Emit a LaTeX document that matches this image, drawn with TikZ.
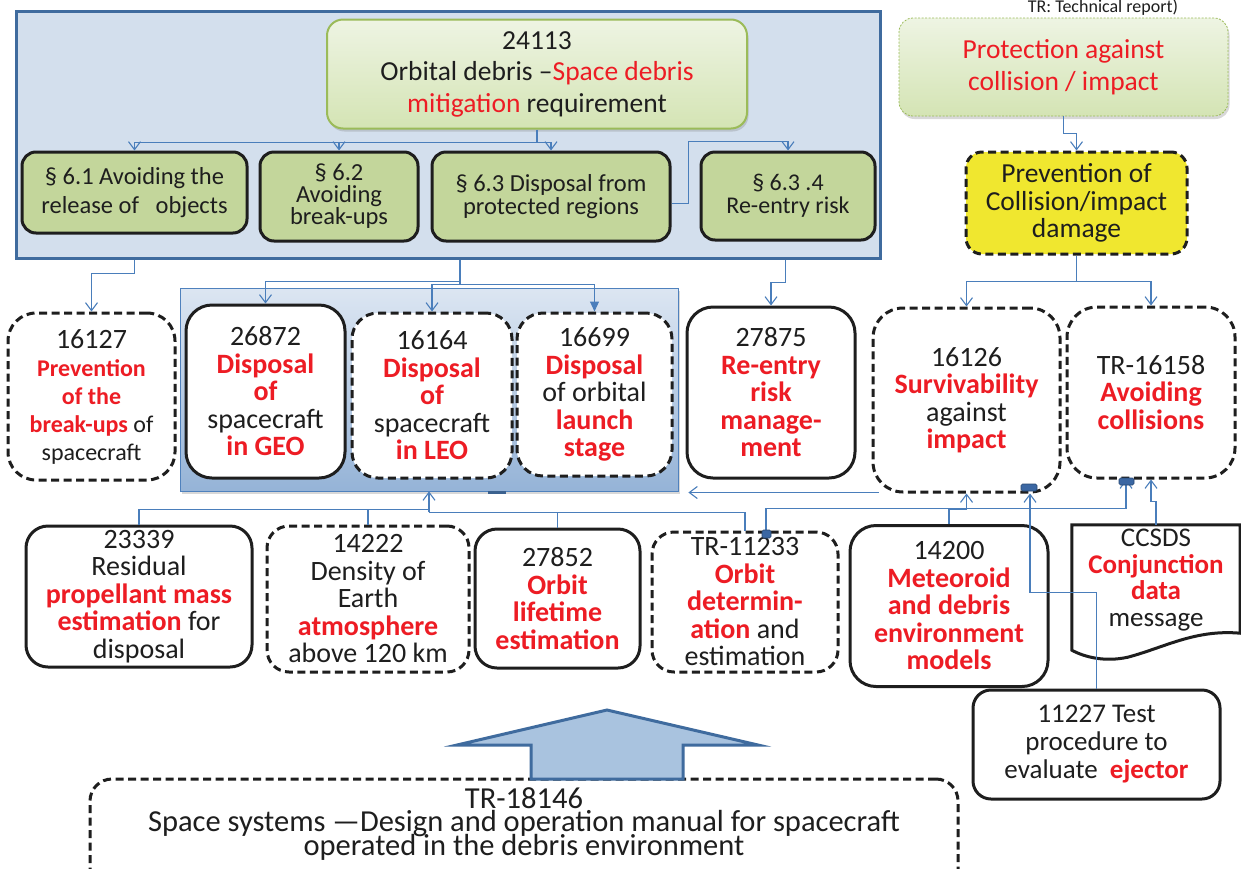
\documentclass[tikz,border=0pt]{standalone}
\usepackage{fontspec}
\setmainfont{Carlito}
\usetikzlibrary{arrows.meta,shadows,calc}

\definecolor{ink}{HTML}{1E1E1E}
\definecolor{hot}{HTML}{ED1C24}
\definecolor{wireblue}{HTML}{4A7EBB}
\definecolor{framefill}{HTML}{D3DFED}
\definecolor{frameline}{HTML}{3F6B9E}
\definecolor{olive}{HTML}{C3D69B}
\definecolor{leaftop}{HTML}{EEF4E3}
\definecolor{leafbot}{HTML}{D4E4B4}
\definecolor{leafline}{HTML}{9BBB59}
\definecolor{skytop}{HTML}{DCE6F2}
\definecolor{skybot}{HTML}{95B3D7}
\definecolor{skyline}{HTML}{4F81BD}
\definecolor{lemon}{HTML}{F0E72F}
\definecolor{bigarrow}{HTML}{A9C3DF}
\definecolor{gluecol}{HTML}{3B67A3}

\newcommand{\redbf}[1]{\textcolor{hot}{\bfseries #1}}
\newcommand{\redtx}[1]{\textcolor{hot}{#1}}
% font size with a fixed line pitch, even when lines would touch
\newcommand{\fsz}[2]{\fontsize{#1}{#2}\selectfont\lineskiplimit=-60pt\relax}

\tikzset{
  every node/.style={text=ink, align=center, inner sep=0pt},
  txtmid/.style={font=\fsz{28}{27.5}},
  roundbox/.style={draw=ink, line width=3pt, rounded corners=26pt, fill=white, txtmid},
  dashbox/.style={roundbox, dash pattern=on 8pt off 4.5pt},
  secbox/.style={draw=ink, line width=3pt, rounded corners=14pt, fill=olive},
  wire/.style={draw=wireblue, line width=1.1pt},
  conn/.style={wire, -{Straight Barb[length=8pt,width=12pt]}},
  connfill/.style={wire, -{Triangle[length=10pt,width=9pt]}},
  gluemark/.style={fill=gluecol, draw=gluecol!70!black, line width=0.6pt, rounded corners=1.5pt},
  softshadow/.style={drop shadow={shadow xshift=1.5pt, shadow yshift=-3pt, opacity=0.3}},
}

\begin{document}
\begin{tikzpicture}[x=1pt,y=-1pt]
\useasboundingbox (0,0) rectangle (1241,868);
\clip (0,0) rectangle (1241,868);
\fill[white] (0,0) rectangle (1241,868);

% ---------- ISO 24113 group ----------
\node[draw=frameline, line width=3pt, fill=framefill, minimum width=864pt, minimum height=247pt] (frame) at (448,134.5) {};

\node[draw=leafline, line width=2pt, rounded corners=16pt, top color=leaftop, bottom color=leafbot, softshadow,
  minimum width=420pt, minimum height=109pt, font=\fsz{27.5}{31.5}] (n24113) at (537,74)
  {24113\\ Orbital debris –\redtx{Space debris}\\ \redtx{mitigation} requirement};

\node[secbox, minimum width=225pt, minimum height=81pt, font=\fsz{24.5}{29}] (s61) at (134.5,192.5)
  {§ 6.1 Avoiding the\\ release of\ \ \ objects};
\node[secbox, minimum width=158pt, minimum height=89pt, font=\fsz{24.5}{22}] (s62) at (339,196.5)
  {§ 6.2\\ Avoiding\\ break-ups};
\node[secbox, minimum width=238pt, minimum height=89pt, font=\fsz{24.5}{22.5}] (s63) at (551,196.5)
  {§ 6.3 Disposal from\\ protected regions};
\node[secbox, minimum width=174pt, minimum height=88pt, font=\fsz{24}{23}] (s634) at (788,196)
  {§ 6.3 .4\\ Re-entry risk};

% ---------- disposal group ----------
\node[draw=skyline, line width=0.8pt, top color=skytop, bottom color=skybot, softshadow,
  minimum width=498pt, minimum height=203pt] (bay) at (429,389.5) {};
\fill[skyline!75!black] (488,491) rectangle (506,494);

% ---------- collision side ----------
\node[font=\fsz{18}{20}] (note) at (1103,7) {TR: Technical report)};

\node[draw=leafline, line width=0.8pt, dash pattern=on 2pt off 1.5pt, rounded corners=14pt,
  top color=leaftop, bottom color=leafbot, softshadow,
  minimum width=329pt, minimum height=98pt, font=\fsz{27.5}{32}, text=hot] (protect) at (1063.5,67)
  {Protection against\\ collision / impact};

\node[dashbox, fill=lemon, rounded corners=16pt, minimum width=221pt, minimum height=102pt,
  font=\fsz{27.5}{27.5}] (damage) at (1076.5,203)
  {Prevention of\\ Collision/impact\\ damage};

% ---------- middle row ----------
\node[dashbox, rounded corners=28pt, minimum width=167pt, minimum height=167pt, font=\fsz{24}{28}] (n16127) at (91.5,396.5)
  {{\fontsize{28}{28}\selectfont 16127}\\ \redbf{Prevention}\\ \redbf{of the}\\ \redbf{break-ups} of\\ spacecraft};
\node[roundbox, minimum width=159pt, minimum height=173pt] (n26872) at (265.5,391.5)
  {26872\\ \redbf{Disposal}\\ \redbf{of}\\ spacecraft\\ \redbf{in GEO}};
\node[dashbox, minimum width=160pt, minimum height=165pt] (n16164) at (432,395.5)
  {16164\\ \redbf{Disposal}\\ \redbf{of}\\ spacecraft\\ \redbf{in LEO}};
\node[dashbox, minimum width=155pt, minimum height=163pt] (n16699) at (594.5,394.5)
  {16699\\ \redbf{Disposal}\\ of orbital\\ \redbf{launch}\\ \redbf{stage}};
\node[roundbox, minimum width=168pt, minimum height=171pt] (n27875) at (771,392.5)
  {27875\\ \redbf{Re-entry}\\ \redbf{risk}\\ \redbf{manage-}\\ \redbf{ment}};
\node[dashbox, rounded corners=30pt, minimum width=187pt, minimum height=184pt] (n16126) at (966.5,400)
  {16126\\ \redbf{Survivability}\\ against\\ \redbf{impact}};
\node[dashbox, rounded corners=30pt, minimum width=168pt, minimum height=171pt] (n16158) at (1151,392.5)
  {TR-16158\\ \redbf{Avoiding}\\ \redbf{collisions}};

% ---------- lower row ----------
\node[roundbox, rounded corners=22pt, minimum width=226pt, minimum height=141pt] (n23339) at (139,596.5)
  {23339\\ Residual\\ \redbf{propellant mass}\\ \redbf{estimation} for\\ disposal};
\node[dashbox, rounded corners=22pt, minimum width=202pt, minimum height=146pt] (n14222) at (368,599)
  {14222\\ Density of\\ Earth\\ \redbf{atmosphere}\\ above 120 km};
\node[roundbox, rounded corners=22pt, minimum width=165pt, minimum height=139pt] (n27852) at (557.5,598.5)
  {27852\\ \redbf{Orbit}\\ \redbf{lifetime}\\ \redbf{estimation}};
\node[dashbox, rounded corners=22pt, minimum width=186pt, minimum height=140pt] (n11233) at (745,602)
  {TR-11233\\ \redbf{Orbit}\\ \redbf{determin-}\\ \redbf{ation} and\\ estimation};
\node[roundbox, rounded corners=26pt, minimum width=198pt, minimum height=161pt] (n14200) at (949,606)
  {14200\\ \redbf{Meteoroid}\\ \redbf{and debris}\\ \redbf{environment}\\ \redbf{models}};

% CCSDS document shape with a wavy lower edge
\node[minimum width=168pt, minimum height=110pt, font=\fsz{27}{26.5}] (ccsds) at (1156,580)
  {CCSDS\\ \redbf{Conjunction}\\ \redbf{data}\\ message};
\draw[draw=ink, line width=3pt, line join=miter]
  (ccsds.north west) -- (ccsds.north east) -- ($(ccsds.south east)+(0,-2)$)
  .. controls ($(ccsds.south east)+(-45,-6)$) and ($(ccsds.south east)+(-75,12)$) .. ($(ccsds.south west)+(56,22)$)
  .. controls ($(ccsds.south west)+(33,27)$) and ($(ccsds.south west)+(13,22)$) .. ($(ccsds.south west)+(0,15)$)
  -- cycle;

\node[roundbox, rounded corners=18pt, minimum width=247pt, minimum height=109pt, font=\fsz{27}{28}] (n11227) at (1096.5,744.5)
  {11227 Test\\ procedure to\\ evaluate\ \ \redbf{ejector}};

% ---------- manual at the base ----------
\node[dashbox, rounded corners=22pt, minimum width=868pt, minimum height=130pt] (manual) at (524,844) {};
\node[font=\fsz{30.5}{23.5}] (manualtext) at (524,824)
  {TR-18146\\ Space systems —Design and operation manual for spacecraft\\ operated in the debris environment};

\draw[draw=frameline, line width=3pt, fill=bigarrow, line join=miter]
  (607,710) -- (758,745) -- (683,745) -- (683,779) -- (531,779) -- (531,745) -- (457,745) -- cycle;

% ---------- connectors ----------
\coordinate (split1) at ($(n24113.south)+(0,13)$);
\draw[wire] (n24113.south) -- (split1);
\draw[conn] (split1) -| (s61.north);
\draw[conn] (split1) -| (s62.north);
\draw[conn] (split1) -| (s63.north);
\draw[conn] ($(s63.east)+(0,7)$) -- ++(17,0) |- ($(s634.north)+(0,-9)$) -- (s634.north);

\draw[conn] (frame.south -| s61.south) -- ++(0,14) -| (n16127.north);
\coordinate (drop2) at ($(frame.south)+(12,0)$);
\draw[wire] (drop2) -- ++(0,22) coordinate (fork2) -- ++(0,3) coordinate (fork3);
\draw[conn] (fork2) -| (n26872.north);
\draw[conn] (fork3) -| (n16164.north);
\draw[connfill] (fork3) -| (n16699.north);
\draw[conn] ($(frame.south east)+(-96,0)$) -- ++(0,23) -| (n27875.north);

\draw[conn] (protect.south) -- ++(0,17) -| (damage.north);
\draw[wire] (damage.south) -- ++(0,26) coordinate (split3);
\draw[conn] (split3) -| (n16126.north);
\draw[conn] (split3) -| (n16158.north);

\coordinate (gather1) at ($(bay.south)+(0,18)$);
\coordinate (gather2) at ($(bay.south)+(0,21)$);
\draw[wire] (n23339.north) |- (gather1);
\draw[wire] (n14222.north) |- (gather1);
\draw[wire] (n27852.north) |- (gather2);
\draw[wire] (n11233.north) |- (gather2);
\draw[conn] (gather2) -- (bay.south);

\coordinate (tail) at ($(n16126.south west)+(7,-1)$);
\draw[conn, shorten >=10pt] (tail) -- (tail -| bay.east);

\draw[conn] ($(n11233.north)+(21,0)$) |- ($(n16158.south)+(-25,29)$) -- ($(n16158.south)+(-25,0)$);
\draw[conn] (n14200.north) |- ($(n16126.south)+(0,16)$) -- (n16126.south);
\draw[conn] (n11227.north) |- ($(n16126.south)+(63.5,99)$) -- ($(n16126.south)+(63.5,0)$);
\draw[conn] (ccsds.north) -- ++(0,-23) -| (n16158.south);

% connection markers
\draw[gluemark] (1021,484) rectangle (1037,491);
\draw[gluemark] (1119,478) rectangle (1134,485);
\draw[gluemark] (762,530) rectangle (771,538);
\end{tikzpicture}
\end{document}
